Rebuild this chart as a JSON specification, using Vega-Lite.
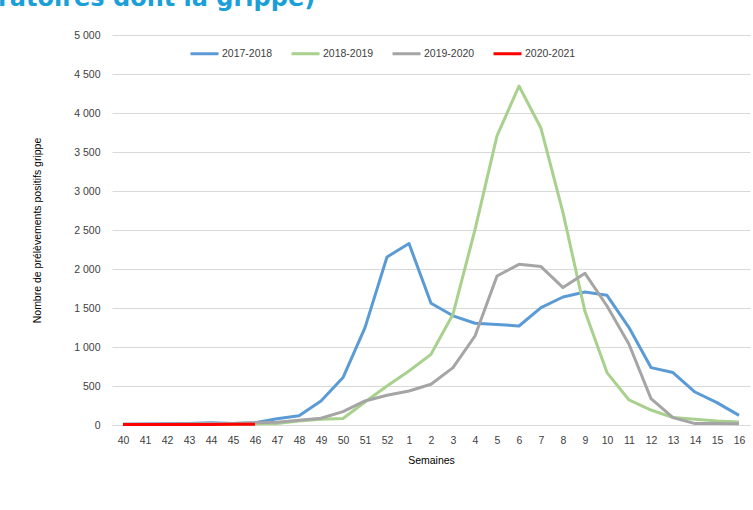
{
  "$schema": "https://vega.github.io/schema/vega-lite/v6.json",
  "autosize": "none",
  "width": 638,
  "height": 390,
  "padding": {"left": 112, "top": 35, "right": 3, "bottom": 85},
  "background": "white",
  "title": {
    "text": "ratoires dont la grippe)",
    "anchor": "start",
    "frame": "group",
    "orient": "top",
    "dx": -114,
    "offset": 0,
    "baseline": "alphabetic",
    "font": "DejaVu Sans",
    "fontSize": 24,
    "fontWeight": "bold",
    "color": "#1a9fd9"
  },
  "data": {
    "values": [
      {"s": "40", "saison": "2017-2018", "n": 10}, {"s": "41", "saison": "2017-2018", "n": 12}, {"s": "42", "saison": "2017-2018", "n": 15}, {"s": "43", "saison": "2017-2018", "n": 20}, {"s": "44", "saison": "2017-2018", "n": 30}, {"s": "45", "saison": "2017-2018", "n": 20}, {"s": "46", "saison": "2017-2018", "n": 30}, {"s": "47", "saison": "2017-2018", "n": 80}, {"s": "48", "saison": "2017-2018", "n": 120}, {"s": "49", "saison": "2017-2018", "n": 308}, {"s": "50", "saison": "2017-2018", "n": 608}, {"s": "51", "saison": "2017-2018", "n": 1249}, {"s": "52", "saison": "2017-2018", "n": 2154}, {"s": "1", "saison": "2017-2018", "n": 2326}, {"s": "2", "saison": "2017-2018", "n": 1560}, {"s": "3", "saison": "2017-2018", "n": 1400}, {"s": "4", "saison": "2017-2018", "n": 1305}, {"s": "5", "saison": "2017-2018", "n": 1290}, {"s": "6", "saison": "2017-2018", "n": 1269}, {"s": "7", "saison": "2017-2018", "n": 1505}, {"s": "8", "saison": "2017-2018", "n": 1641}, {"s": "9", "saison": "2017-2018", "n": 1705}, {"s": "10", "saison": "2017-2018", "n": 1663}, {"s": "11", "saison": "2017-2018", "n": 1249}, {"s": "12", "saison": "2017-2018", "n": 736}, {"s": "13", "saison": "2017-2018", "n": 672}, {"s": "14", "saison": "2017-2018", "n": 423}, {"s": "15", "saison": "2017-2018", "n": 287}, {"s": "16", "saison": "2017-2018", "n": 124},
      {"s": "40", "saison": "2018-2019", "n": 5}, {"s": "41", "saison": "2018-2019", "n": 5}, {"s": "42", "saison": "2018-2019", "n": 8}, {"s": "43", "saison": "2018-2019", "n": 8}, {"s": "44", "saison": "2018-2019", "n": 10}, {"s": "45", "saison": "2018-2019", "n": 10}, {"s": "46", "saison": "2018-2019", "n": 15}, {"s": "47", "saison": "2018-2019", "n": 20}, {"s": "48", "saison": "2018-2019", "n": 50}, {"s": "49", "saison": "2018-2019", "n": 75}, {"s": "50", "saison": "2018-2019", "n": 84}, {"s": "51", "saison": "2018-2019", "n": 295}, {"s": "52", "saison": "2018-2019", "n": 500}, {"s": "1", "saison": "2018-2019", "n": 692}, {"s": "2", "saison": "2018-2019", "n": 906}, {"s": "3", "saison": "2018-2019", "n": 1420}, {"s": "4", "saison": "2018-2019", "n": 2505}, {"s": "5", "saison": "2018-2019", "n": 3706}, {"s": "6", "saison": "2018-2019", "n": 4346}, {"s": "7", "saison": "2018-2019", "n": 3804}, {"s": "8", "saison": "2018-2019", "n": 2723}, {"s": "9", "saison": "2018-2019", "n": 1454}, {"s": "10", "saison": "2018-2019", "n": 672}, {"s": "11", "saison": "2018-2019", "n": 321}, {"s": "12", "saison": "2018-2019", "n": 192}, {"s": "13", "saison": "2018-2019", "n": 95}, {"s": "14", "saison": "2018-2019", "n": 73}, {"s": "15", "saison": "2018-2019", "n": 51}, {"s": "16", "saison": "2018-2019", "n": 38},
      {"s": "40", "saison": "2019-2020", "n": 10}, {"s": "41", "saison": "2019-2020", "n": 10}, {"s": "42", "saison": "2019-2020", "n": 12}, {"s": "43", "saison": "2019-2020", "n": 15}, {"s": "44", "saison": "2019-2020", "n": 20}, {"s": "45", "saison": "2019-2020", "n": 20}, {"s": "46", "saison": "2019-2020", "n": 30}, {"s": "47", "saison": "2019-2020", "n": 35}, {"s": "48", "saison": "2019-2020", "n": 60}, {"s": "49", "saison": "2019-2020", "n": 86}, {"s": "50", "saison": "2019-2020", "n": 172}, {"s": "51", "saison": "2019-2020", "n": 308}, {"s": "52", "saison": "2019-2020", "n": 381}, {"s": "1", "saison": "2019-2020", "n": 436}, {"s": "2", "saison": "2019-2020", "n": 522}, {"s": "3", "saison": "2019-2020", "n": 736}, {"s": "4", "saison": "2019-2020", "n": 1141}, {"s": "5", "saison": "2019-2020", "n": 1910}, {"s": "6", "saison": "2019-2020", "n": 2060}, {"s": "7", "saison": "2019-2020", "n": 2031}, {"s": "8", "saison": "2019-2020", "n": 1762}, {"s": "9", "saison": "2019-2020", "n": 1945}, {"s": "10", "saison": "2019-2020", "n": 1526}, {"s": "11", "saison": "2019-2020", "n": 1035}, {"s": "12", "saison": "2019-2020", "n": 338}, {"s": "13", "saison": "2019-2020", "n": 95}, {"s": "14", "saison": "2019-2020", "n": 18}, {"s": "15", "saison": "2019-2020", "n": 18}, {"s": "16", "saison": "2019-2020", "n": 15},
      {"s": "40", "saison": "2020-2021", "n": 8}, {"s": "41", "saison": "2020-2021", "n": 6}, {"s": "42", "saison": "2020-2021", "n": 7}, {"s": "43", "saison": "2020-2021", "n": 6}, {"s": "44", "saison": "2020-2021", "n": 8}, {"s": "45", "saison": "2020-2021", "n": 9}, {"s": "46", "saison": "2020-2021", "n": 10}
    ]
  },
  "mark": {"type": "line", "strokeWidth": 3, "strokeJoin": "round"},
  "encoding": {
    "x": {
      "field": "s",
      "type": "ordinal",
      "sort": ["40","41","42","43","44","45","46","47","48","49","50","51","52","1","2","3","4","5","6","7","8","9","10","11","12","13","14","15","16"],
      "scale": {"type": "point", "padding": 0.5},
      "axis": {
        "title": "Semaines",
        "labelAngle": 0,
        "ticks": false,
        "grid": false,
        "domain": true,
        "domainColor": "#d9d9d9",
        "domainWidth": 1,
        "labelPadding": 10,
        "titlePadding": 10,
        "labelFont": "Liberation Sans",
        "labelFontSize": 10.5,
        "labelColor": "#404040",
        "titleFont": "Liberation Sans",
        "titleFontSize": 10.5,
        "titleFontWeight": "normal",
        "titleColor": "#000000"
      }
    },
    "y": {
      "field": "n",
      "type": "quantitative",
      "scale": {"domain": [0, 5000], "nice": false},
      "axis": {
        "title": "Nombre de prélèvements positifs grippe",
        "values": [0, 500, 1000, 1500, 2000, 2500, 3000, 3500, 4000, 4500, 5000],
        "labelExpr": "replace(format(datum.value, ','), ',', ' ')",
        "ticks": false,
        "domain": false,
        "grid": true,
        "gridColor": "#d9d9d9",
        "gridWidth": 1,
        "labelPadding": 12,
        "titlePadding": 31,
        "labelFont": "Liberation Sans",
        "labelFontSize": 10.5,
        "labelColor": "#404040",
        "titleFont": "Liberation Sans",
        "titleFontSize": 10.5,
        "titleFontWeight": "normal",
        "titleColor": "#000000"
      }
    },
    "color": {
      "field": "saison",
      "type": "nominal",
      "scale": {
        "domain": ["2017-2018", "2018-2019", "2019-2020", "2020-2021"],
        "range": ["#5b9bd5", "#a9d18e", "#a5a5a5", "#ff0000"]
      },
      "legend": {
        "title": null,
        "orient": "none",
        "direction": "horizontal",
        "legendX": 77,
        "legendY": 3,
        "symbolType": "stroke",
        "symbolSize": 784,
        "symbolStrokeWidth": 3,
        "labelOffset": 2,
        "columnPadding": 12,
        "labelFont": "Liberation Sans",
        "labelFontSize": 10.5,
        "labelColor": "#404040"
      }
    }
  },
  "config": {
    "view": {"stroke": null}
  }
}
